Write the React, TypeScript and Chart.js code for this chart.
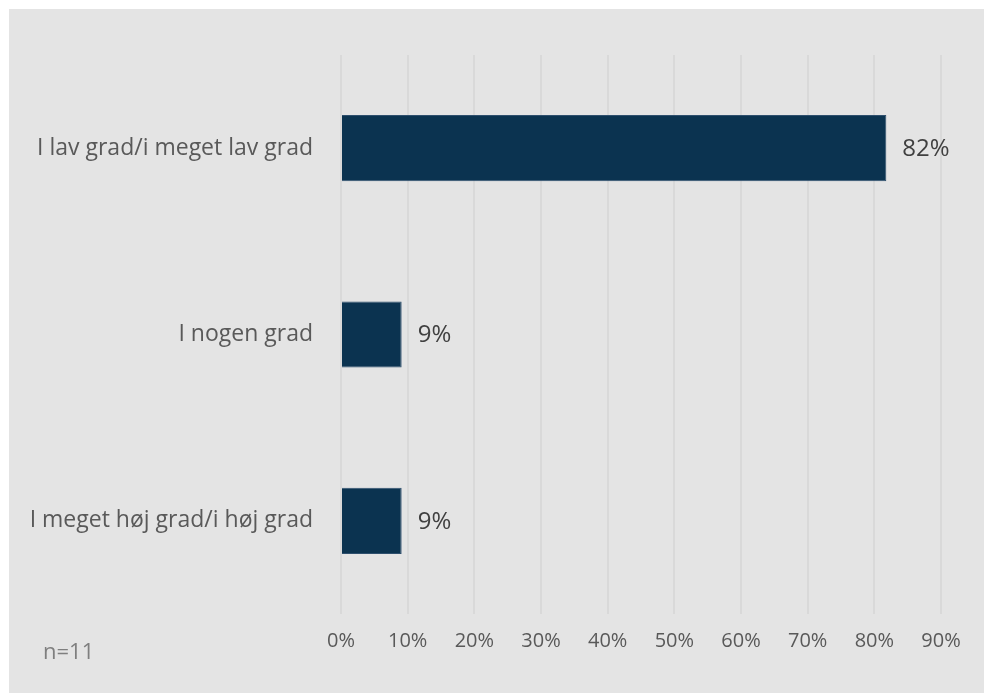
import React, { useEffect, useRef } from "react";
import { Chart, registerables } from "chart.js";

Chart.register(...registerables);

const categories = ["I lav grad/i meget lav grad", "I nogen grad", "I meget høj grad/i høj grad"];
const values = [81.8, 9.1, 9.1];
const valueLabels = ["82%", "9%", "9%"];
const xTicks = [0, 10, 20, 30, 40, 50, 60, 70, 80, 90];
const footnote = "n=11";

const FONT = "'Open Sans', 'Liberation Sans', sans-serif";

export default function App() {
  const ref = useRef<HTMLCanvasElement | null>(null);
  useEffect(() => {
    if (!ref.current) return;
    const bgPlugin = {
      id: "bg",
      beforeDraw(chart: any) {
        const { ctx, width, height } = chart;
        ctx.save();
        ctx.fillStyle = "#e4e4e4";
        ctx.fillRect(0, 0, width, height);
        ctx.restore();
      },
    };
    const labelPlugin = {
      id: "vlabels",
      afterDatasetsDraw(chart: any) {
        const { ctx } = chart;
        const meta = chart.getDatasetMeta(0);
        ctx.save();
        ctx.fillStyle = "#404040";
        ctx.font = `24px ${FONT}`;
        ctx.textBaseline = "middle";
        ctx.textAlign = "left";
        meta.data.forEach((bar: any, i: number) => {
          ctx.fillText(valueLabels[i], bar.x + 16, bar.y + 1);
        });
        ctx.fillStyle = "#7f7f7f";
        ctx.font = `22px ${FONT}`;
        ctx.fillText(footnote, 34, chart.height - 40);
        ctx.restore();
      },
    };
    const chart = new Chart(ref.current, {
      type: "bar",
      data: {
        labels: categories,
        datasets: [
          {
            data: values,
            backgroundColor: "#0b3350",
            borderColor: "#2e4f6d",
            borderWidth: 1,
            barPercentage: 0.355,
            categoryPercentage: 1,
          },
        ],
      },
      options: {
        indexAxis: "y",
        animation: false,
        responsive: false,
        maintainAspectRatio: false,
        layout: { padding: { top: 46, right: 43, bottom: 25, left: 0 } },
        plugins: { legend: { display: false }, tooltip: { enabled: false } },
        scales: {
          x: {
            min: 0,
            max: 90,
            afterBuildTicks(scale: any) {
              scale.ticks = xTicks.map((v) => ({ value: v }));
            },
            grid: { color: "#d9d9d9", lineWidth: 2, drawTicks: false },
            border: { display: false },
            ticks: {
              padding: 15,
              color: "#595959",
              font: { family: FONT, size: 20 },
              callback: (v: any) => v + "%",
            },
          },
          y: {
            grid: { display: false, drawTicks: false },
            border: { display: false },
            afterFit(scale: any) {
              scale.width = 332;
            },
            ticks: {
              padding: 28,
              color: "#595959",
              font: { family: FONT, size: 23 },
            },
          },
        },
      },
      plugins: [bgPlugin, labelPlugin],
    });
    return () => chart.destroy();
  }, []);
  return (
    <div style={{ position: "absolute", left: 9, top: 9, width: 975, height: 684 }}>
      <canvas ref={ref} width={975} height={684} />
    </div>
  );
}
